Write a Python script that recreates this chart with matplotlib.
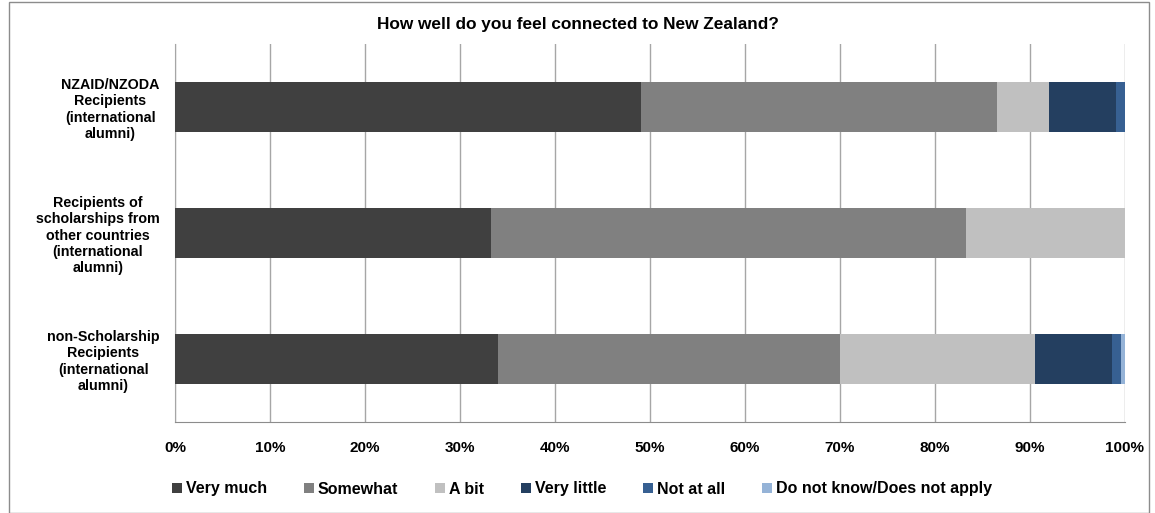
import matplotlib.pyplot as plt
import numpy as np
from matplotlib.patches import Rectangle

plt.rcParams['font.family'] = ['Liberation Sans', 'DejaVu Sans']

categories = ["NZAID/NZODA\nRecipients\n(international\nalumni)",
              "Recipients of\nscholarships from\nother countries\n(international\nalumni)",
              "non-Scholarship\nRecipients\n(international\nalumni)"]
series = ["Very much", "Somewhat", "A bit", "Very little", "Not at all",
          "Do not know/Does not apply"]
very_much = [49.0, 33.3, 34.0]
somewhat = [37.5, 50.0, 36.0]
a_bit = [5.5, 16.7, 20.5]
very_little = [7.0, 0.0, 8.1]
not_at_all = [1.0, 0.0, 0.95]
dont_know = [0.0, 0.0, 0.45]
colors = ["#404040", "#808080", "#C0C0C0", "#243F60", "#376092", "#95B3D7"]

values = [very_much, somewhat, a_bit, very_little, not_at_all, dont_know]

fig = plt.figure(figsize=(11.55, 5.13), dpi=100)
ax = fig.add_axes([175 / 1155, 1 - 422 / 513, 950 / 1155, 378 / 513])

# outer chart border
fig.patches.append(Rectangle((9 / 1155, 0.0), 1140 / 1155, 1 - 2 / 513,
                             transform=fig.transFigure, fill=False,
                             edgecolor="#8c8c8c", linewidth=1))

y = np.arange(len(categories))
left = np.zeros(len(categories))
for name, vals, c in zip(series, values, colors):
    ax.barh(y, vals, left=left, height=0.4, color=c, label=name, zorder=3)
    left += np.array(vals)

ax.set_xlim(0, 100)
ax.set_ylim(len(categories) - 0.5, -0.5)
ax.set_xticks(np.arange(0, 101, 10))
ax.set_xticklabels([f"{t}%" for t in range(0, 101, 10)],
                   fontsize=11, fontweight="bold")
ax.set_yticks(y)
ax.set_yticklabels(categories, fontsize=10.3, fontweight="bold",
                   multialignment="center", linespacing=1.2)
ax.tick_params(axis="both", length=0)
ax.tick_params(axis="x", pad=14)
ax.tick_params(axis="y", pad=11)
ax.grid(axis="x", color="#A6A6A6", linewidth=1, zorder=0)
for s in ["top", "right"]:
    ax.spines[s].set_visible(False)
ax.spines["left"].set_color("#A6A6A6")
ax.spines["bottom"].set_color("#8c8c8c")

fig.text(0.5, 1 - 25 / 513, "How well do you feel connected to New Zealand?",
         ha="center", va="center", fontsize=12.4, fontweight="bold")

fig.legend(loc="center left", bbox_to_anchor=(172 / 1155, 1 - 489 / 513),
           ncol=6, frameon=False, borderpad=0, borderaxespad=0,
           handlelength=0.63, handleheight=0.63,
           handletextpad=0.25, columnspacing=2.3,
           prop={"size": 11.5, "weight": "bold"})

fig.savefig("out.png", dpi=100)
